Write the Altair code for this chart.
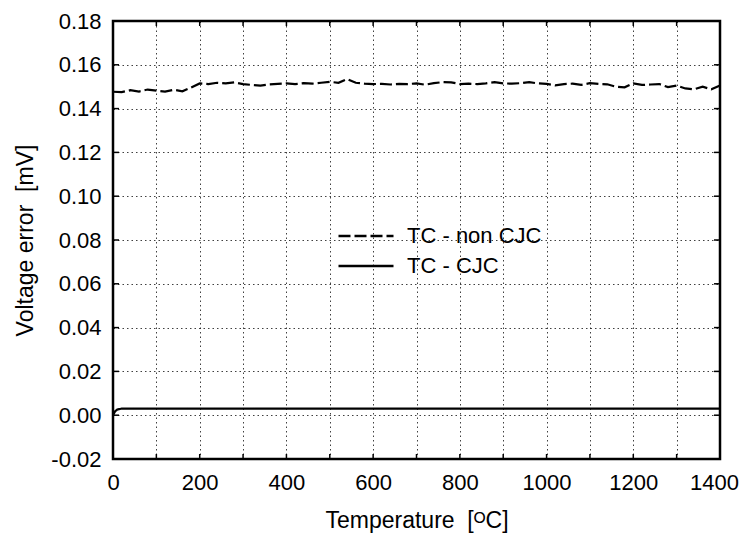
import altair as alt
import pandas as pd

# ---- data ----
temps_noncjc = list(range(0, 1401, 20))
v_noncjc = [
    0.1477, 0.1475, 0.1484, 0.1478, 0.1487, 0.1482, 0.1478, 0.1486, 0.1479, 0.1496,
    0.1515, 0.1512, 0.1518, 0.1515, 0.1520, 0.1512, 0.1508, 0.1505, 0.1510, 0.1513,
    0.1515, 0.1512, 0.1516, 0.1514, 0.1518, 0.1522, 0.1518, 0.1535, 0.1518, 0.1514,
    0.1512, 0.1513, 0.1510, 0.1513, 0.1512, 0.1515, 0.1509, 0.1516, 0.1521, 0.1520,
    0.1512, 0.1514, 0.1512, 0.1515, 0.1521, 0.1515, 0.1514, 0.1516, 0.1521, 0.1515,
    0.1513, 0.1506, 0.1512, 0.1514, 0.1508, 0.1516, 0.1513, 0.1511, 0.1500, 0.1497,
    0.1515, 0.1508, 0.1510, 0.1512, 0.1498, 0.1505, 0.1492, 0.1488, 0.1500, 0.1488,
    0.1505,
]
temps_cjc = [0, 5, 10, 20, 40, 100, 400, 700, 1000, 1400]
v_cjc = [0.0, 0.0018, 0.0026, 0.0030, 0.0030, 0.0030, 0.0030, 0.0030, 0.0030, 0.0030]
series_names = ["TC - non CJC", "TC - CJC"]
x_ticks = list(range(0, 1401, 100))
y_ticks = [-0.02, 0.0, 0.02, 0.04, 0.06, 0.08, 0.10, 0.12, 0.14, 0.16, 0.18]
x_title = "Temperature\u00a0 [ᴼC]"
y_title = "Voltage error\u00a0 [mV]"

W, H = 607, 438
FONT = "Liberation Sans"

rows = []
for t, v in zip(temps_noncjc, v_noncjc):
    rows.append({"T": t, "V": v, "series": series_names[0], "k": 0})
for t, v in zip(temps_cjc, v_cjc):
    rows.append({"T": t, "V": v, "series": series_names[1], "k": 1})
df = pd.DataFrame(rows)

x_scale = alt.Scale(domain=[0, 1400], nice=False, zero=False)
y_scale = alt.Scale(domain=[-0.02, 0.18], nice=False, zero=False)

x_enc = alt.X("T:Q", scale=x_scale,
              axis=alt.Axis(values=x_ticks, title=x_title,
                            labelExpr="datum.value % 200 == 0 ? format(datum.value, 'd') : ''",
                            labelFlush=False, labelOverlap=False,
                            labelOffset={"condition": {"test": "datum.value == 1400", "value": -6},
                                         "value": 0},
                            labelPadding=13, titleY=61, titleBaseline="middle"))
y_enc = alt.Y("V:Q", scale=y_scale,
              axis=alt.Axis(values=y_ticks, title=y_title,
                            labelExpr="replace(format(datum.value, '.2f'), '−', '-')",
                            labelFlush=False, labelOverlap=False,
                            labelPadding=12, titleX=-88, titleBaseline="middle"))

lines = alt.Chart(df).mark_line(strokeWidth=2.2, color="black").encode(
    x=x_enc,
    y=y_enc,
    strokeDash=alt.StrokeDash("series:N",
                              scale=alt.Scale(domain=series_names, range=[[12, 4], [1, 0]]),
                              legend=alt.Legend(title=None, orient="none", legendX=242, legendY=204,
                                                symbolType="M-5.5,0H5.5", symbolSize=100,
                                                symbolStrokeWidth=2.4, symbolStrokeColor="black",
                                                labelOffset=30, rowPadding=8,
                                                labelFontSize=22, labelFont=FONT, labelColor="black")),
    detail="k:N",
)

tick_df_x = pd.DataFrame({"T": x_ticks})
tick_df_y = pd.DataFrame({"V": y_ticks})

xt_bottom = alt.Chart(tick_df_x).mark_rule(color="black", strokeWidth=1.5).encode(
    x=x_enc, y=alt.value(H), y2=alt.value(H - 5))
xt_top = alt.Chart(tick_df_x).mark_rule(color="black", strokeWidth=1.5).encode(
    x=x_enc, y=alt.value(0), y2=alt.value(5))
yt_left = alt.Chart(tick_df_y).mark_rule(color="black", strokeWidth=1.5).encode(
    y=y_enc, x=alt.value(0), x2=alt.value(6))
yt_right = alt.Chart(tick_df_y).mark_rule(color="black", strokeWidth=1.5).encode(
    y=y_enc, x=alt.value(W - 6), x2=alt.value(W))

chart = alt.layer(lines, xt_bottom, xt_top, yt_left, yt_right).properties(
    width=W, height=H,
    autosize=alt.AutoSizeParams(type="none"),
    padding={"left": 105, "top": 13, "right": 20, "bottom": 75},
    background="white",
).configure_view(
    stroke="black", strokeWidth=2.5
).configure_axis(
    domain=False, ticks=False,
    labelFont=FONT, labelFontSize=22, labelColor="black",
    titleFont=FONT, titleFontSize=23, titleFontWeight="normal", titleColor="black",
    grid=True, gridColor="black", gridDash=[1.5, 3], gridOpacity=0.75, gridWidth=1,
)

chart.save("out.html", embed_options={"renderer": "svg", "actions": False})
